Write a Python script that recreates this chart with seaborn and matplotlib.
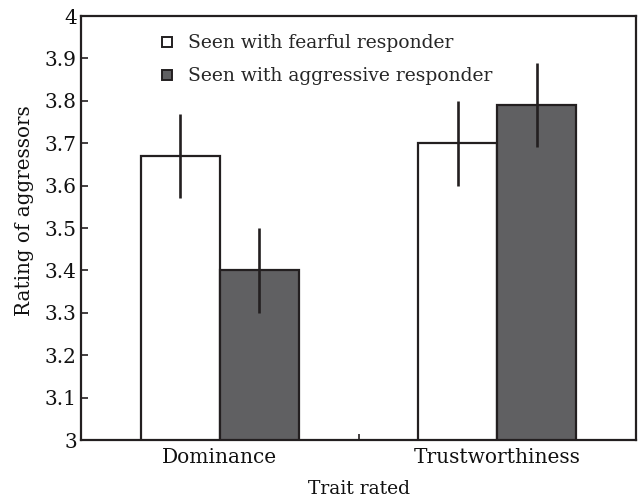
import matplotlib
matplotlib.use("Agg")
import matplotlib.pyplot as plt
from matplotlib.lines import Line2D
import seaborn as sns
import pandas as pd

traits = ["Dominance", "Trustworthiness"]
conditions = ["Seen with fearful responder", "Seen with aggressive responder"]
fearful_means = [3.67, 3.70]
aggressive_means = [3.40, 3.79]
fearful_err = [0.10, 0.10]
aggressive_err = [0.10, 0.10]
y_ticks = [3.0, 3.1, 3.2, 3.3, 3.4, 3.5, 3.6, 3.7, 3.8, 3.9, 4.0]
y_tick_labels = ["3", "3.1", "3.2", "3.3", "3.4", "3.5", "3.6", "3.7", "3.8", "3.9", "4"]

df = pd.DataFrame({
    "trait": traits + traits,
    "condition": [conditions[0]] * 2 + [conditions[1]] * 2,
    "value": fearful_means + aggressive_means,
    "err": fearful_err + aggressive_err,
})

sns.set_style("white")
plt.rcParams["font.family"] = ["DejaVu Serif"]

EDGE = "#231f20"
DARK = "#606062"

fig = plt.figure(figsize=(6.38, 5.0), dpi=100)
ax = fig.add_axes([0.127, 0.12, 0.870, 0.848])

sns.barplot(data=df, x="trait", y="value", hue="condition", order=traits,
            hue_order=conditions, palette=["white", DARK], width=0.57,
            errorbar=None, edgecolor=EDGE, linewidth=1.6, ax=ax, legend=False)

# error bars from bar patches
bars = [p for p in ax.patches]
for p, (_, row) in zip(bars, df.iterrows()):
    cx = p.get_x() + p.get_width() / 2
    ax.errorbar(cx, row["value"], yerr=row["err"], fmt="none", ecolor=EDGE,
                elinewidth=1.9, capsize=0, zorder=5)

ax.set_ylim(3.0, 4.0)
ax.set_xlim(-0.5, 1.5)
ax.set_yticks(y_ticks)
ax.set_yticklabels(y_tick_labels)
ax.tick_params(axis="y", direction="in", length=5, width=1.2, color=EDGE,
               labelsize=14.5, labelcolor="#111111", pad=3, left=True)
ax.tick_params(axis="x", which="major", length=0, labelsize=14.5,
               labelcolor="#111111", pad=6)
ax.set_xticks([0.5], minor=True)
ax.tick_params(axis="x", which="minor", direction="in", length=4, width=1.2,
               color=EDGE, bottom=True)

for s in ax.spines.values():
    s.set_visible(True)
    s.set_color(EDGE)
    s.set_linewidth(1.6)

ax.set_xlabel("Trait rated", fontsize=13.5, color="#111111", labelpad=9)
ax.set_ylabel("Rating of aggressors", fontsize=14.3, color="#111111")
ax.yaxis.set_label_coords(-0.084, 0.54)

handles = [
    Line2D([], [], marker="s", linestyle="none", markersize=7.5,
           markerfacecolor="white", markeredgecolor=EDGE, markeredgewidth=1.4),
    Line2D([], [], marker="s", linestyle="none", markersize=7.5,
           markerfacecolor=DARK, markeredgecolor=EDGE, markeredgewidth=1.4),
]
ax.legend(handles, conditions, loc="upper left", bbox_to_anchor=(0.125, 0.975),
          frameon=False, fontsize=13.5, handlelength=1.0, handletextpad=0.6,
          labelspacing=0.8, borderaxespad=0.0)

fig.savefig("out.png", dpi=100)
